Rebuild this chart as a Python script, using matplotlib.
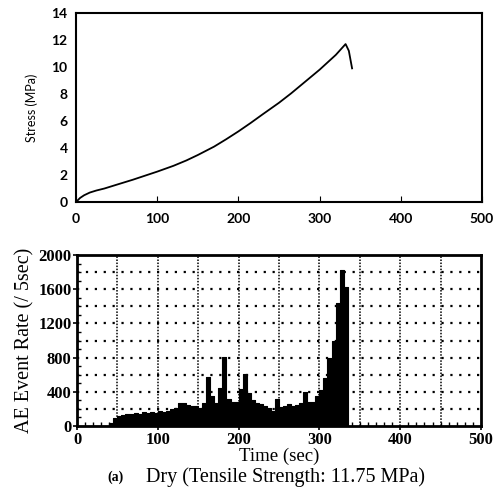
import matplotlib
matplotlib.use('Agg')
import matplotlib.pyplot as plt
from matplotlib.ticker import MultipleLocator

# stress curve (sec, MPa)
stress_t = [0, 5, 10, 17, 25, 35, 50, 70, 100, 120, 136, 150, 170, 185, 200, 215, 230, 250, 265,
            285, 300, 310, 320, 332, 336, 340]
stress_v = [0, 0.3, 0.5, 0.7, 0.85, 1.0, 1.28, 1.65, 2.25, 2.68, 3.08, 3.48, 4.1, 4.65, 5.23, 5.85,
            6.5, 7.35, 8.05, 9.05, 9.8, 10.35, 10.9, 11.7, 11.2, 9.9]

# AE event rate per 5 sec bin (bin start, count)
ae_t = list(range(0, 335, 5))
ae_v = [5, 5, 5, 5, 5, 5, 5, 5,
        40, 90, 120, 130, 140, 135, 150, 140, 160, 150, 165, 150,
        170, 160, 180, 200, 210, 270, 265, 250, 235, 230, 215, 270,
        570, 350, 270, 440, 810, 320, 280, 280, 430, 610, 390, 300,
        270, 255, 230, 210, 180, 320, 220, 230, 260, 230, 240, 270,
        400, 280, 280, 350, 420, 560, 800, 1000, 1440, 1820, 1620]

fig = plt.figure(figsize=(5.03, 4.98), dpi=100)

# --- top panel: stress ---
ax1 = fig.add_axes([76 / 503, 1 - 202 / 498, 406 / 503, 189 / 498])
ax1.plot(stress_t, stress_v, color='black', lw=1.3)
ax1.set_xlim(0, 500)
ax1.set_ylim(0, 14)
ax1.set_xticks(range(0, 501, 100))
ax1.set_yticks(range(0, 15, 2))
ax1.tick_params(axis='x', direction='in', length=4, pad=8, labelsize=10)
ax1.tick_params(axis='y', length=0, pad=6, labelsize=10)
for lab in ax1.get_xticklabels() + ax1.get_yticklabels():
    lab.set_family('Lato')
    lab.set_fontweight('bold')
ax1.set_ylabel('Stress (MPa)', family='Lato', fontsize=9, labelpad=10)
for s in ax1.spines.values():
    s.set_linewidth(1.5)

# --- bottom panel: AE event rate ---
ax2 = fig.add_axes([77 / 503, 1 - 426 / 498, 404 / 503, 171 / 498])
# histogram drawn as one stepped polygon so the bins join without seams
edges = ae_t + [ae_t[-1] + 5]
ax2.fill_between(edges, ae_v + [ae_v[-1]], step='post', color='black', lw=0.8, zorder=2)
ax2.set_xlim(0, 500)
ax2.set_ylim(0, 2000)
for x in range(50, 500, 50):
    ax2.axvline(x, color='black', lw=1.1, ls=(0, (1, 1)), zorder=0)
for y in range(200, 2000, 200):
    ax2.axhline(y, color='black', lw=1.6, ls=(0, (1, 3)), zorder=0)
ax2.set_xticks(range(0, 501, 100))
ax2.set_yticks(range(0, 2001, 400))
ax2.yaxis.set_minor_locator(MultipleLocator(100))
ax2.xaxis.set_minor_locator(MultipleLocator(10))
ax2.tick_params(axis='both', which='major', direction='out', length=3, width=1.2, pad=1, labelsize=12)
ax2.tick_params(axis='both', which='minor', direction='in', length=3, width=1)
for lab in ax2.get_xticklabels() + ax2.get_yticklabels():
    lab.set_family('Liberation Serif')
    lab.set_fontweight('bold')
ax2.set_xlabel('Time (sec)', family='Liberation Serif', fontsize=13.5, labelpad=0)
ax2.set_ylabel('AE Event Rate (/ 5sec)', family='Liberation Serif', fontsize=14.5, labelpad=3)
for s in ax2.spines.values():
    s.set_linewidth(2)

fig.text(107 / 503, 1 - 477 / 498, '(a)', family='Liberation Serif', fontsize=10,
         fontweight='bold', ha='left', va='center')
fig.text(146 / 503, 1 - 477 / 498, 'Dry (Tensile Strength: 11.75 MPa)', family='Liberation Serif',
         fontsize=14.5, ha='left', va='center')
fig.savefig('out.png', dpi=100)
